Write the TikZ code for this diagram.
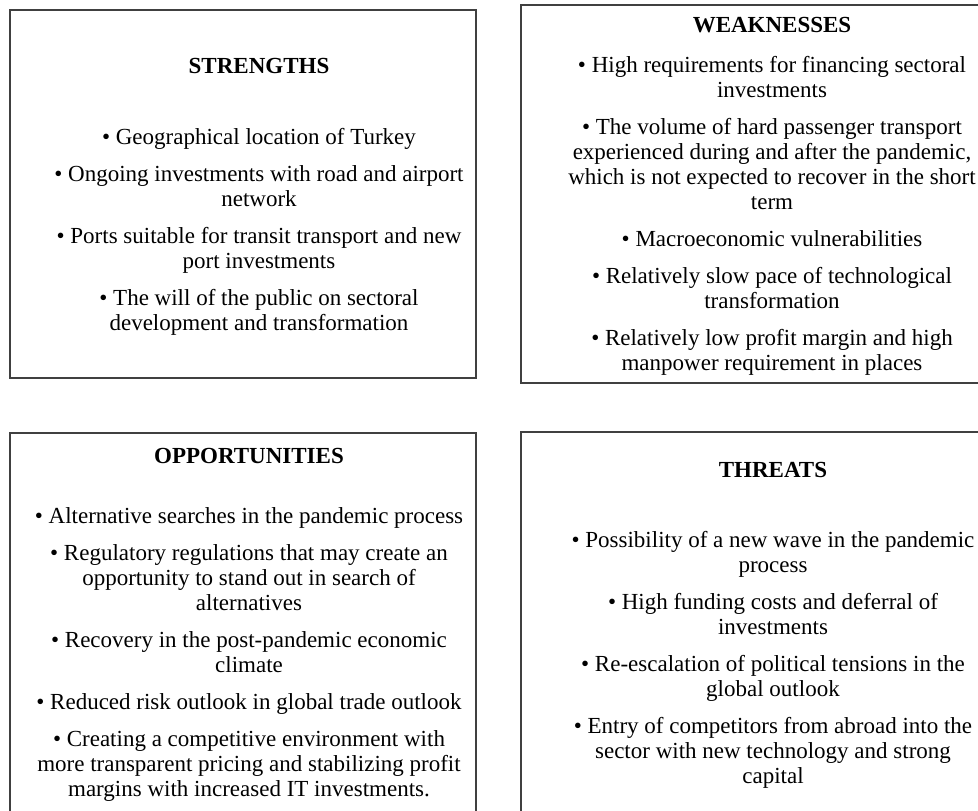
\documentclass[tikz,border=0pt]{standalone}
\usepackage{fontspec}
\setmainfont{Liberation Serif}
\usetikzlibrary{positioning}

\begin{document}
\begin{tikzpicture}
	[x=1pt,y=-1pt,
	box/.style={draw=black!75,line width=1.3pt},
	head/.style={anchor=base,inner sep=0pt,font=\fontsize{23}{25}\selectfont\bfseries},
	items/.style={anchor=base,inner sep=0pt,align=center,font=\fontsize{23}{25}\selectfont}]
	\useasboundingbox (0,0) rectangle (978,811);
	\clip (0,0) rectangle (978,811);
	%%%%% STRENGTHS
	\draw[box] (10,10) rectangle (476,378);
	\node[head] (strengths) at (259,73) {STRENGTHS};
	% base of the list = its last line
	\node[items] (strengthslist) at (259,330) {\textbullet{} Geographical location of Turkey\\[12pt]
	\textbullet{} Ongoing investments with road and airport\\ network\\[12pt]
	\textbullet{} Ports suitable for transit transport and new\\ port investments\\[12pt]
	\textbullet{} The will of the public on sectoral\\ development and transformation};
	%%%%% WEAKNESSES
	\draw[box] (521,5) rectangle (995,383);
	\node[head] (weaknesses) at (772,32) {WEAKNESSES};
	\node[items] (weaknesseslist) at (772,370) {\textbullet{} High requirements for financing sectoral\\ investments\\[12pt]
	\textbullet{} The volume of hard passenger transport\\ experienced during and after the pandemic,\\ which is not expected to recover in the short\\ term\\[12pt]
	\textbullet{} Macroeconomic vulnerabilities\\[12pt]
	\textbullet{} Relatively slow pace of technological\\ transformation\\[12pt]
	\textbullet{} Relatively low profit margin and high\\ manpower requirement in places};
	%%%%% OPPORTUNITIES
	\draw[box] (10,433) rectangle (476,830);
	\node[head] (opportunities) at (249,463) {OPPORTUNITIES};
	\node[items] (opportunitieslist) at (249,796) {\textbullet{} Alternative searches in the pandemic process\\[12pt]
	\textbullet{} Regulatory regulations that may create an\\ opportunity to stand out in search of\\ alternatives\\[12pt]
	\textbullet{} Recovery in the post-pandemic economic\\ climate\\[12pt]
	\textbullet{} Reduced risk outlook in global trade outlook\\[12pt]
	\textbullet{} Creating a competitive environment with\\ more transparent pricing and stabilizing profit\\ margins with increased IT investments.};
	%%%%% THREATS
	\draw[box] (521,432) rectangle (995,830);
	\node[head] (threats) at (773,477) {THREATS};
	\node[items] (threatslist) at (773,783) {\textbullet{} Possibility of a new wave in the pandemic\\ process\\[12pt]
	\textbullet{} High funding costs and deferral of\\ investments\\[12pt]
	\textbullet{} Re-escalation of political tensions in the\\ global outlook\\[12pt]
	\textbullet{} Entry of competitors from abroad into the\\ sector with new technology and strong\\ capital};
\end{tikzpicture}
\end{document}
